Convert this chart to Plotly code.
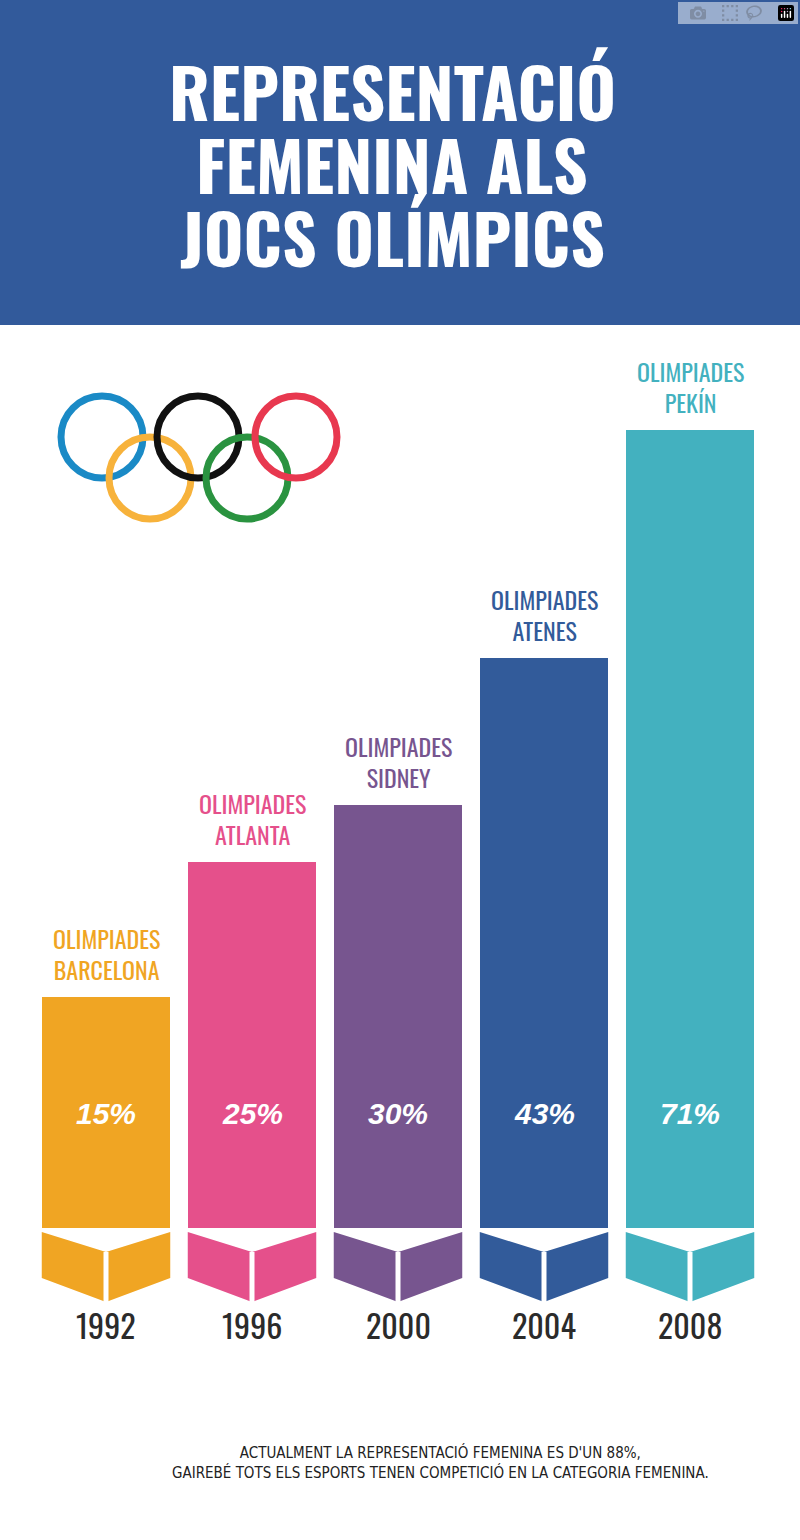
import plotly.graph_objects as go

years = ["1992", "1996", "2000", "2004", "2008"]
cities = ["BARCELONA", "ATLANTA", "SIDNEY", "ATENES", "PEKÍN"]
percent = [15, 25, 30, 43, 71]
bar_height = [231, 366, 423, 570, 798]
colors = ["#f0a523", "#e5508b", "#77558f", "#325b9a", "#43b1bf"]

W, H = 800, 1540
NARROW = "Liberation Sans Narrow, Oswald, Arial Narrow, sans-serif"
BW = 0.88

fig = go.Figure()
fig.add_trace(go.Bar(
    x=list(range(len(years))), y=bar_height, width=BW, marker=dict(color=colors, line=dict(width=0)),
    hoverinfo="skip", showlegend=False))

shapes = []
annotations = []
def px(x, y):
    return x / W, 1 - y / H

# header
shapes.append(dict(type="rect", xref="paper", yref="paper", x0=0, x1=1, y0=1 - 325 / H, y1=1,
                   fillcolor="#325a9b", line=dict(width=0), layer="below"))
for i, t in enumerate(["REPRESENTACIÓ", "FEMENINA ALS", "JOCS OLÍMPICS"]):
    annotations.append(dict(xref="paper", yref="paper", x=0.49, y=1 - (38 + 73 * i) / H, text=f"<b>{t}</b>",
                            showarrow=False, font=dict(family=NARROW, size=68, color="white")))

# rings
rings = [(102, 437, "#1a8ac6"), (150, 478, "#f7b23b"), (198, 437, "#111111"), (247, 478, "#2a9340"), (296, 437, "#e8384f")]
for cx, cy, c in rings:
    x0, y1 = px(cx - 41, cy - 41)
    x1, y0 = px(cx + 41, cy + 41)
    shapes.append(dict(type="circle", xref="paper", yref="paper", x0=x0, x1=x1, y0=y0, y1=y1,
                       line=dict(color=c, width=7)))

for i, (yr, city, p, h, c) in enumerate(zip(years, cities, percent, bar_height, colors)):
    L, R = i - BW / 2, i + BW / 2
    path = f"M {L},-4 L {i},-24 L {R},-4 L {R},-50 L {i},-74 L {L},-50 Z"
    shapes.append(dict(type="path", xref="x", yref="y", path=path, fillcolor=c, line=dict(width=0)))
    shapes.append(dict(type="line", xref="x", yref="y", x0=i, x1=i, y0=-24, y1=-76,
                       line=dict(color="white", width=5)))
    annotations.append(dict(x=i, y=h + 8, text=f"OLIMPIADES<br>{city}", showarrow=False, yanchor="bottom",
                            font=dict(family=NARROW, size=24, color=c)))
    annotations.append(dict(x=i, y=115, text=f"<b><i>{p}%</i></b>", showarrow=False,
                            font=dict(family="Liberation Sans, Arial, sans-serif", size=30, color="white")))
    annotations.append(dict(x=i, y=-96, text=yr, showarrow=False, yanchor="middle",
                            font=dict(family=NARROW, size=32, color="#2b2b2b")))

annotations.append(dict(xref="paper", yref="paper", x=440 / W, y=1 - 1484 / H,
                        text="ACTUALMENT LA REPRESENTACIÓ FEMENINA ES D'UN 88%,<br>GAIREBÉ TOTS ELS ESPORTS TENEN COMPETICIÓ EN LA CATEGORIA FEMENINA.",
                        showarrow=False, font=dict(family="DejaVu Sans Condensed, DejaVu Sans, sans-serif", size=15, color="#222")))

fig.update_layout(
    width=W, height=H, margin=dict(l=0, r=0, t=0, b=0),
    paper_bgcolor="white", plot_bgcolor="white",
    xaxis=dict(domain=[33 / W, 763 / W], range=[-0.5, 4.5], visible=False, fixedrange=True),
    yaxis=dict(domain=[1 - 1350 / H, 1 - 330 / H], range=[-122, 898], visible=False, fixedrange=True),
    shapes=shapes, annotations=annotations, bargap=0,
)
fig.write_html("out.html", post_script="document.body.style.margin='0';")
